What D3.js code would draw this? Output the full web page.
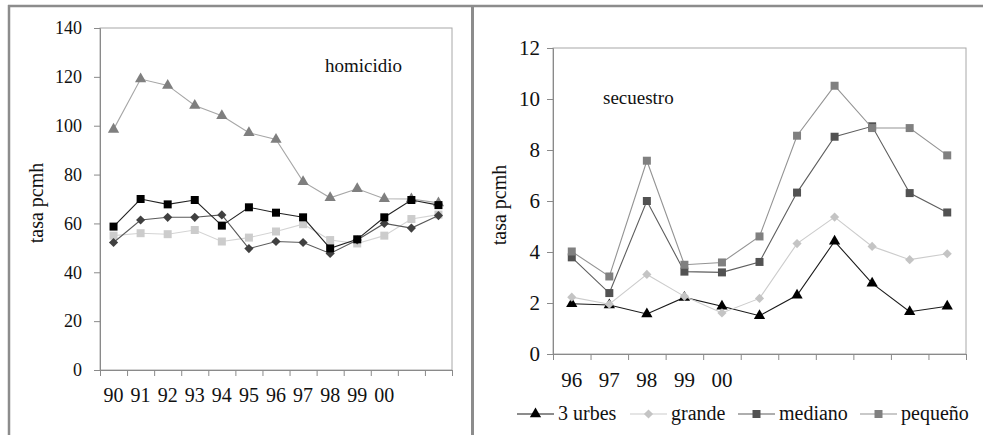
<!DOCTYPE html>
<html>
<head>
<meta charset="utf-8">
<script src="https://cdn.jsdelivr.net/npm/d3@7"></script>
<style>
  body { margin: 0; background: #fff; }
  svg text { font-family: "Liberation Serif", Tinos, "Times New Roman", Times, "DejaVu Serif", serif; fill: #111; }
</style>
</head>
<body>
<div id="graph"></div>
<script>
// data: homicidio (left), 90 .. 02
const homYears = ["90", "91", "92", "93", "94", "95", "96", "97", "98", "99", "00", "", ""];
const homTriangulo = [98.5, 119.1, 116.5, 108.3, 104.1, 97.1, 94.4, 77.1, 70.5, 74.2, 70.1, 70.0, 68.4];
const homCuadroNegro = [58.7, 70.0, 67.8, 69.6, 59.1, 66.6, 64.4, 62.5, 49.8, 53.5, 62.5, 69.6, 67.5];
const homRombo = [52.2, 61.4, 62.5, 62.5, 63.5, 49.7, 52.6, 52.2, 47.7, 53.2, 60.0, 58.1, 63.2];
const homCuadroGris = [55.0, 56.0, 55.6, 57.3, 52.6, 54.2, 56.7, 59.7, 53.2, 51.8, 55.0, 61.8, 63.6];
const homTicks = [0, 20, 40, 60, 80, 100, 120, 140];

// data: secuestro (right), 96 .. 06
const secYears = ["96", "97", "98", "99", "00", "", "", "", "", "", ""];
const secUrbes = [1.97, 1.92, 1.57, 2.22, 1.87, 1.50, 2.30, 4.42, 2.77, 1.66, 1.87];
const secGrande = [2.23, 1.95, 3.12, 2.26, 1.61, 2.18, 4.33, 5.37, 4.22, 3.70, 3.93];
const secMediano = [3.79, 2.39, 6.00, 3.23, 3.20, 3.61, 6.33, 8.52, 8.93, 6.31, 5.55];
const secPequeno = [4.02, 3.04, 7.58, 3.50, 3.59, 4.61, 8.56, 10.52, 8.86, 8.86, 7.79];
const secTicks = [0, 2, 4, 6, 8, 10, 12];
const secLegend = ["3 urbes", "grande", "mediano", "pequeño"];

const width = 983, height = 435;
const serif = '"Liberation Serif", Tinos, "Times New Roman", Times, "DejaVu Serif", serif';

let svg = d3.select("#graph")
    .append("svg")
    .attr("width", width)
    .attr("height", height)
    .attr("font-family", serif);

// outer frame
const frameColor = "#8c8c8c";
svg.append("line").attr("x1", 8).attr("x2", width).attr("y1", 6).attr("y2", 6)
    .style("stroke", frameColor).style("stroke-width", 2.5);
svg.append("line").attr("x1", 9).attr("x2", 9).attr("y1", 5).attr("y2", height)
    .style("stroke", frameColor).style("stroke-width", 2.5);
svg.append("line").attr("x1", 472.5).attr("x2", 472.5).attr("y1", 5).attr("y2", height)
    .style("stroke", frameColor).style("stroke-width", 3);

const symbols = {
    triangle: d3.symbol().type(d3.symbolTriangle).size(55),
    square: d3.symbol().type(d3.symbolSquare).size(64),
    diamond: d3.symbol().type(d3.symbolSquare).size(42)
};

function drawPanel(p) {
    const n = p.cats.length;
    let x = d3.scaleLinear().domain([0, n]).range([p.left, p.right]);
    let y = d3.scaleLinear().domain([0, p.ticks[p.ticks.length - 1]]).range([p.bottom, p.top]);

    let g = svg.append("g");

    // plot box
    g.append("rect")
        .attr("x", p.left).attr("y", p.top)
        .attr("width", p.right - p.left).attr("height", p.bottom - p.top)
        .style("fill", "none").style("stroke", "#a8a8a8").style("stroke-width", 1);

    // y axis
    let yAxis = g.append("g")
        .attr("transform", "translate(" + p.left + ",0)")
        .call(d3.axisLeft(y).tickValues(p.ticks).tickSize(6).tickPadding(p.yPad).tickFormat(d3.format("d")));
    yAxis.attr("font-family", serif);
    yAxis.selectAll("path, line").style("stroke", "#8a8a8a");
    yAxis.selectAll("text").style("font-size", p.yFont + "px").style("fill", "#111");

    // x axis: ticks on category boundaries, labels at centers
    let xAxis = g.append("g")
        .attr("transform", "translate(0," + p.bottom + ")")
        .call(d3.axisBottom(x).tickValues(d3.range(n + 1)).tickSize(6).tickFormat(""));
    xAxis.selectAll("path, line").style("stroke", "#8a8a8a");

    g.selectAll(".xlab")
        .data(p.cats)
        .enter().append("text")
        .attr("x", function (d, i) { return x(i + 0.5); })
        .attr("y", p.xLabY)
        .attr("text-anchor", "middle")
        .style("font-size", p.xFont + "px")
        .text(function (d) { return d; });

    // axis title
    g.append("text")
        .attr("transform", "translate(" + p.titleX + "," + p.titleY + ") rotate(-90)")
        .attr("text-anchor", "middle")
        .style("font-size", "20px")
        .text("tasa pcmh");

    g.append("text")
        .attr("x", p.labelX).attr("y", p.labelY)
        .style("font-size", "19px")
        .text(p.label);

    let line = d3.line()
        .x(function (d, i) { return x(i + 0.5); })
        .y(function (d) { return y(d); });

    p.series.forEach(function (s) {
        g.append("path")
            .datum(s.values)
            .attr("d", line)
            .style("fill", "none")
            .style("stroke", s.line)
            .style("stroke-width", 1.1);
        g.selectAll(null)
            .data(s.values)
            .enter().append("path")
            .attr("d", symbols[s.symbol])
            .attr("transform", function (d, i) {
                return "translate(" + x(i + 0.5) + "," + y(d) + ")" + (s.symbol == "diamond" ? " rotate(45)" : "");
            })
            .style("fill", s.color);
    });
}

drawPanel({
    cats: homYears, ticks: homTicks,
    left: 100, right: 452, top: 28, bottom: 370,
    yPad: 12, yFont: 18, xFont: 20, xLabY: 402,
    titleX: 43, titleY: 203,
    label: "homicidio", labelX: 325, labelY: 72,
    series: [
        { values: homCuadroGris, symbol: "square", color: "#cccccc", line: "#d4d4d4" },
        { values: homTriangulo, symbol: "triangle", color: "#7f7f7f", line: "#a6a6a6" },
        { values: homRombo, symbol: "diamond", color: "#404040", line: "#5a5a5a" },
        { values: homCuadroNegro, symbol: "square", color: "#000000", line: "#222222" }
    ]
});

const secSeries = [
    { name: secLegend[0], values: secUrbes, symbol: "triangle", color: "#000000", line: "#1a1a1a" },
    { name: secLegend[1], values: secGrande, symbol: "diamond", color: "#c4c4c4", line: "#cccccc" },
    { name: secLegend[2], values: secMediano, symbol: "square", color: "#525252", line: "#5e5e5e" },
    { name: secLegend[3], values: secPequeno, symbol: "square", color: "#808080", line: "#939393" }
];

drawPanel({
    cats: secYears, ticks: secTicks,
    left: 553, right: 966, top: 48, bottom: 354,
    yPad: 7, yFont: 21, xFont: 21, xLabY: 387,
    titleX: 506, titleY: 205,
    label: "secuestro", labelX: 603, labelY: 104,
    series: secSeries
});

// legend
const legendX = [517, 630, 738, 860];
let legend = svg.selectAll(".legend")
    .data(secSeries)
    .enter().append("g")
    .attr("class", "legend")
    .attr("transform", function (d, i) { return "translate(" + legendX[i] + ",414)"; });

legend.append("line")
    .attr("x1", 0).attr("x2", 37).attr("y1", 0).attr("y2", 0)
    .style("stroke", function (d) { return d.line; })
    .style("stroke-width", 1.1);
legend.append("path")
    .attr("d", function (d) { return symbols[d.symbol](); })
    .attr("transform", function (d) { return "translate(18.5,0)" + (d.symbol == "diamond" ? " rotate(45)" : ""); })
    .style("fill", function (d) { return d.color; });
legend.append("text")
    .attr("x", 41).attr("y", 6)
    .style("font-size", "20px")
    .text(function (d) { return d.name; });
</script>
</body>
</html>
